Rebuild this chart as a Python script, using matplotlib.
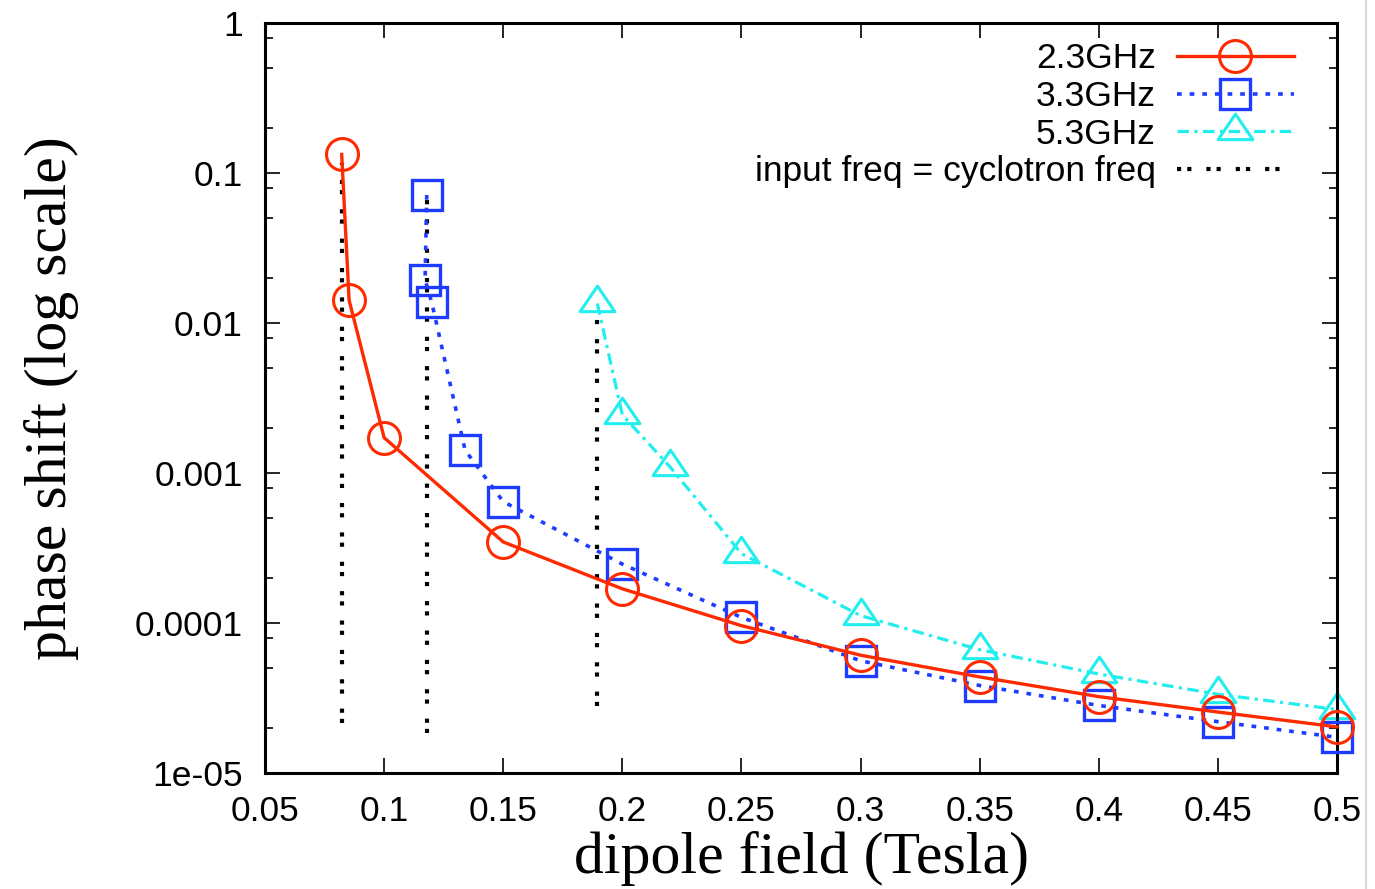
import numpy as np
import matplotlib
matplotlib.use('Agg')
import matplotlib.pyplot as plt
from matplotlib.path import Path
from matplotlib.lines import Line2D
from matplotlib.ticker import FixedLocator, LogLocator, NullFormatter

# 2.3 GHz
field_23 = [0.0822, 0.0853, 0.1, 0.15, 0.2, 0.25, 0.3, 0.35, 0.4, 0.45, 0.5]
shift_23 = [0.133, 0.0142, 1.72e-3, 3.47e-4, 1.69e-4, 9.6e-5, 6.1e-5, 4.37e-5, 3.23e-5, 2.55e-5, 2.03e-5]

# 3.3 GHz
field_33 = [0.1179, 0.1172, 0.12, 0.134, 0.15, 0.2, 0.25, 0.3, 0.35, 0.4, 0.45, 0.5]
shift_33 = [0.0713, 0.0194, 0.0137, 1.42e-3, 6.44e-4, 2.47e-4, 1.09e-4, 5.6e-5, 3.83e-5, 2.82e-5, 2.2e-5, 1.73e-5]

# 5.3 GHz
field_53 = [0.1895, 0.2, 0.22, 0.25, 0.3, 0.35, 0.4, 0.45, 0.5]
shift_53 = [0.0135, 2.44e-3, 1.10e-3, 2.9e-4, 1.12e-4, 6.64e-5, 4.57e-5, 3.35e-5, 2.65e-5]

# input freq = cyclotron freq
cyc_field = [0.0822, 0.1179, 0.1895]
cyc_top = [0.117, 0.0713, 0.0107]
cyc_bottom = [2.16e-5, 1.85e-5, 2.8e-5]

x_ticks = [0.05, 0.1, 0.15, 0.2, 0.25, 0.3, 0.35, 0.4, 0.45, 0.5]
x_tick_labels = ['0.05', '0.1', '0.15', '0.2', '0.25', '0.3', '0.35', '0.4', '0.45', '0.5']
y_ticks = [1e-5, 1e-4, 1e-3, 1e-2, 1e-1, 1]
y_tick_labels = ['1e-05', '0.0001', '0.001', '0.01', '0.1', '1']

RED = '#ff2a00'
BLUE = '#1e3cff'
CYAN = '#22eeee'

sans = ['Liberation Sans', 'DejaVu Sans']
serif = ['Liberation Serif', 'DejaVu Serif']

# triangle with the data point below its middle (gnuplot style)
tri = Path([(0, 1), (-1, -0.47), (1, -0.47), (0, 1)], closed=True)

fig = plt.figure(figsize=(13.75, 8.89), dpi=100)
ax = fig.add_axes([265 / 1375, 1 - 773 / 889, 1072 / 1375, 750 / 889])

ax.plot(field_23, shift_23, color=RED, lw=2.4, marker='o', ms=23,
        mfc='none', mec=RED, mew=2.2, label='2.3GHz', zorder=4, clip_on=False)
ax.plot(field_33, shift_33, color=BLUE, lw=2.6, linestyle=(0, (1.3, 2.2)),
        marker='s', ms=22, mfc='none', mec=BLUE, mew=2.4, label='3.3GHz', zorder=3,
        clip_on=False)
ax.plot(field_53, shift_53, color=CYAN, lw=2.3, linestyle=(0, (3.6, 1.7, 1, 1.7)),
        marker=tri, ms=25, mfc='none', mec=CYAN, mew=2.2, label='5.3GHz', zorder=2,
        clip_on=False)

for i, (xc, b, t) in enumerate(zip(cyc_field, cyc_bottom, cyc_top)):
    ax.plot([xc, xc], [b, t], color='black', lw=3, linestyle=(0, (1, 1.45, 1, 3.6)),
            dash_capstyle='butt', solid_capstyle='butt',
            label='input freq = cyclotron freq' if i == 0 else None, zorder=1.5)

ax.set_yscale('log')
ax.set_xlim(0.05, 0.5)
ax.set_ylim(1e-5, 1)

ax.xaxis.set_major_locator(FixedLocator(x_ticks))
ax.set_xticklabels(x_tick_labels)
ax.yaxis.set_major_locator(FixedLocator(y_ticks))
ax.set_yticklabels(y_tick_labels)
ax.yaxis.set_minor_locator(LogLocator(base=10, subs=(2, 5, 8)))
ax.yaxis.set_minor_formatter(NullFormatter())

ax.tick_params(which='both', direction='in', top=True, right=True, width=1.2)
ax.tick_params(which='major', length=11, labelsize=25.5)
ax.tick_params(axis='x', which='major', pad=16)
ax.tick_params(axis='y', which='major', pad=16)
ax.tick_params(which='minor', length=6)
for lab in ax.get_xticklabels() + ax.get_yticklabels():
    lab.set_family(sans)

for sp in ax.spines.values():
    sp.set_linewidth(2.2)

ax.set_xlabel('dipole field (Tesla)', family=serif, fontsize=43, labelpad=2)
ax.set_ylabel('phase shift (log scale)', family=serif, fontsize=43, labelpad=40)

leg = ax.legend(loc='upper right', bbox_to_anchor=(0.973, 0.993), frameon=False,
                markerfirst=False, handlelength=3.3,
                handletextpad=0.6, labelspacing=0.13, borderaxespad=0,
                prop={'family': sans, 'size': 25.5})

# thin grey edge on the right like the scanned original
fig.add_artist(Line2D([0.9935, 0.9935], [0, 1], transform=fig.transFigure,
                      color='#d0d0d0', lw=1.2))

fig.savefig('out.png', dpi=100)
